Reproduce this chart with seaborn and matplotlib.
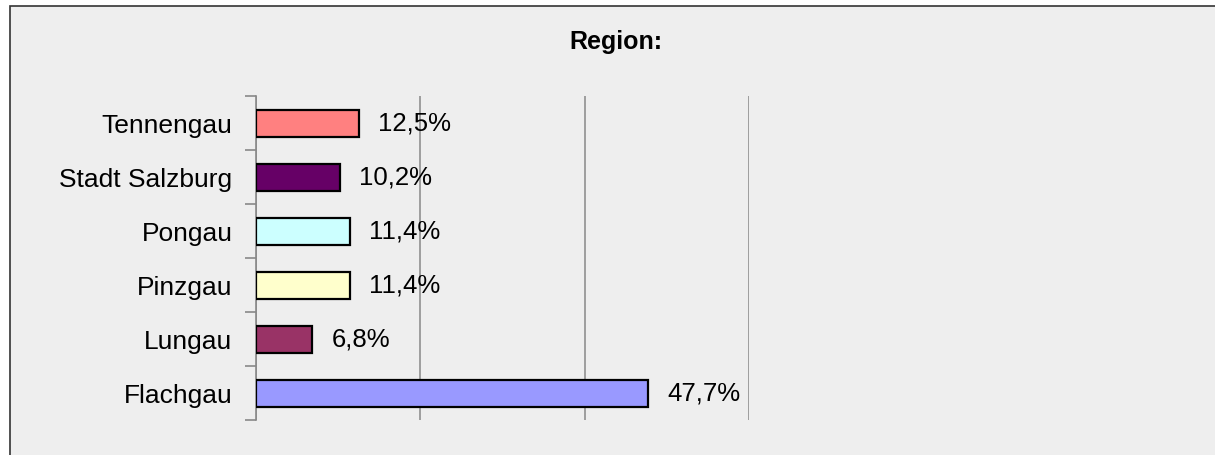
import matplotlib
matplotlib.use("Agg")
import matplotlib.pyplot as plt
import seaborn as sns
import pandas as pd
from matplotlib.patches import Rectangle

categories = ["Tennengau", "Stadt Salzburg", "Pongau", "Pinzgau", "Lungau", "Flachgau"]
values = [12.5, 10.2, 11.4, 11.4, 6.8, 47.7]
value_labels = ["12,5%", "10,2%", "11,4%", "11,4%", "6,8%", "47,7%"]
colors = ["#FF8080", "#660066", "#CCFFFF", "#FFFFCC", "#993366", "#9999FF"]
title = "Region:"

sns.set_theme(style="white")
plt.rcParams["font.family"] = ["Liberation Sans", "DejaVu Sans"]

W, H = 1215, 455
fig = plt.figure(figsize=(W / 100, H / 100), dpi=100, facecolor="white")

# chart area background with border (cropped at right/bottom)
bg = Rectangle((10 / W, -0.1), 1.2, 1 - 6.5 / H + 0.1, transform=fig.transFigure,
               facecolor="#EEEEEE", edgecolor="#333333", linewidth=1.2, zorder=-10)
fig.patches.append(bg)

ax = fig.add_axes([256 / W, 1 - 420 / H, (749 - 256) / W, (420 - 96) / H])
ax.set_facecolor("none")

df = pd.DataFrame({"Region": categories, "Wert": values})
sns.barplot(data=df, x="Wert", y="Region", hue="Region", palette=colors,
            orient="h", width=0.5, edgecolor="black", linewidth=1.6,
            saturation=1, legend=False, ax=ax, zorder=3)

ax.set_xlim(0, 60)
ax.set_ylim(len(categories) - 0.5, -0.5)
ax.set_xticks([0, 20, 40, 60])
ax.set_xticklabels([])
ax.tick_params(axis="x", length=0)
ax.grid(axis="x", color="#909090", linewidth=1.2, zorder=0)
ax.set_axisbelow(True)

ax.set_yticks(range(len(categories)))
ax.set_yticklabels(categories, fontsize=19, color="black")
ax.tick_params(axis="y", which="major", left=True, length=0, pad=17)
ax.set_yticks([i - 0.5 for i in range(len(categories) + 1)], minor=True)
ax.tick_params(axis="y", which="minor", left=True, length=8, width=1.2,
               color="#888888", direction="out")

for s in ["top", "right", "bottom"]:
    ax.spines[s].set_visible(False)
ax.spines["left"].set_color("#888888")
ax.spines["left"].set_linewidth(1.2)

ax.set_xlabel("")
ax.set_ylabel("")

for i, cont in enumerate(ax.containers):
    ax.bar_label(cont, labels=[value_labels[i]], padding=14, fontsize=18.5, color="black")

fig.text(616 / W, 1 - 42 / H, title, ha="center", va="center", fontsize=18,
         fontweight="bold", color="black")

fig.savefig("out.png", dpi=100, facecolor=fig.get_facecolor())
